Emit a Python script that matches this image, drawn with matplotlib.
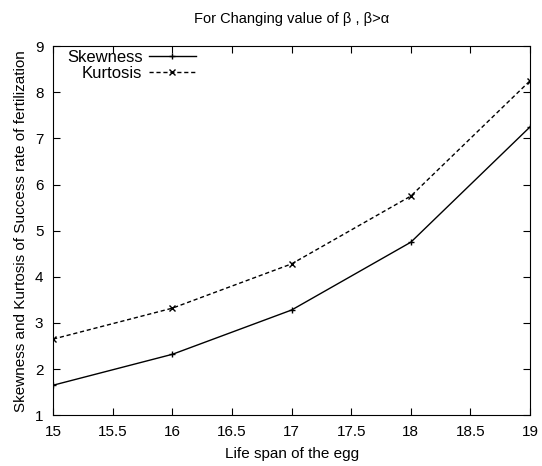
import matplotlib
matplotlib.use("Agg")
import matplotlib.pyplot as plt

life_span = [15, 16, 17, 18, 19]
skewness = [1.65, 2.32, 3.28, 4.75, 7.25]
kurtosis = [2.65, 3.32, 4.28, 5.75, 8.25]

plt.rcParams['font.family'] = ['Liberation Sans', 'DejaVu Sans']

fig = plt.figure(figsize=(5.42, 4.66), dpi=100)
ax = fig.add_axes([0.098, 0.109, 0.880, 0.792])

ax.plot(life_span, skewness, color='black', linewidth=1, marker='+', markersize=5,
        label='Skewness')
ax.plot(life_span, kurtosis, color='black', linewidth=1, linestyle=(0, (3, 2)),
        marker='x', markersize=4, label='Kurtosis')

ax.set_xlim(15, 19)
ax.set_ylim(1, 9)
ax.set_xticks([15, 15.5, 16, 16.5, 17, 17.5, 18, 18.5, 19])
ax.set_xticklabels(['15', '15.5', '16', '16.5', '17', '17.5', '18', '18.5', '19'])
ax.set_yticks(range(1, 10))
ax.tick_params(direction='in', top=True, right=True, labelsize=11, length=5)
ax.tick_params(axis='x', pad=7)
ax.tick_params(axis='y', pad=7)

ax.set_xlabel('Life span of the egg', fontsize=11, labelpad=6)
ax.set_ylabel('Skewness and Kurtosis of Success rate of fertilization', fontsize=11, labelpad=5)
ax.set_title('For Changing value of β , β>α', fontsize=10.5, pad=17)

ax.legend(loc='upper left', bbox_to_anchor=(0.02, 1.0), frameon=False, markerfirst=False,
          fontsize=12, handlelength=2.8, handletextpad=0.4, borderaxespad=0.0,
          borderpad=0.25, labelspacing=0.05)

fig.savefig('out.png', dpi=100)
